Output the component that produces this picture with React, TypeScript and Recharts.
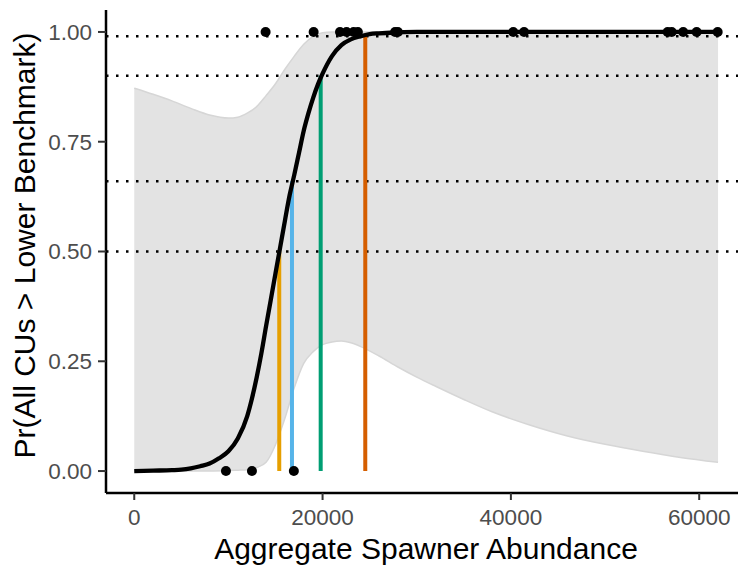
import {
  Area,
  ComposedChart,
  Label,
  Line,
  ReferenceLine,
  Scatter,
  XAxis,
  YAxis,
} from "recharts";

// fitted curve
const CURVE_X = [
  0, 2000, 4000, 5000, 6000, 7000, 8000, 9000, 10000, 11000, 12000, 12500,
  13000, 13500, 14000, 14500, 15000, 15500, 16000, 16500, 17000, 17500, 18000,
  18500, 19000, 19500, 20000, 21000, 22000, 23000, 24000, 25000, 26000, 28000,
  30000, 35000, 40000, 50000, 62000,
];
const CURVE_P = [
  0.0, 0.001, 0.002, 0.003, 0.006, 0.011, 0.017, 0.029, 0.045, 0.074, 0.125,
  0.165, 0.213, 0.268, 0.33, 0.39, 0.45, 0.51, 0.57, 0.628, 0.675, 0.725, 0.775,
  0.815, 0.85, 0.88, 0.905, 0.945, 0.97, 0.983, 0.99, 0.995, 0.997, 0.999, 1,
  1, 1, 1, 1,
];

// confidence band
const BAND_X = [
  0, 2000, 4000, 6000, 8000, 10000, 11000, 12000, 13000, 14000, 15000, 16000,
  17000, 18000, 19000, 20000, 21000, 22000, 23000, 24000, 26000, 28000, 30000,
  32000, 35000, 38000, 42000, 46000, 50000, 54000, 58000, 62000,
];
const BAND_LO = [
  0, 0, 0, 0, 0, 0.001, 0.002, 0.003, 0.008, 0.02, 0.06, 0.12, 0.19, 0.245,
  0.272, 0.288, 0.294, 0.296, 0.292, 0.284, 0.262, 0.237, 0.214, 0.193, 0.163,
  0.135, 0.105, 0.08, 0.061, 0.045, 0.031, 0.02,
];
const BAND_HI = [
  0.872, 0.858, 0.843, 0.826, 0.811, 0.804, 0.806, 0.815, 0.83, 0.855, 0.882,
  0.915, 0.945, 0.972, 0.99, 0.998, 1, 1, 1, 1, 1, 1, 1, 1, 1, 1, 1, 1, 1, 1,
  1, 1,
];

// observed outcomes
const OBS_ONE_X = [
  13950, 19050, 21850, 22550, 23300, 23750, 27700, 28000, 40250, 41400, 56650,
  57080, 58300, 59730, 61960,
];
const OBS_ZERO_X = [9740, 12500, 16950];

// benchmark probabilities and the abundance where the curve hits them
const PROB_LEVELS = [0.5, 0.66, 0.9, 0.99];
const LEVEL_X = [15400, 16750, 19800, 24535];
const LEVEL_COLORS = ["#E69F00", "#56B4E9", "#009E73", "#D55E00"];

const X_TICKS = [0, 20000, 40000, 60000];
const Y_TICKS = [0, 0.25, 0.5, 0.75, 1];

const FONT = "'Liberation Sans', Arial, sans-serif";

const curveData = CURVE_X.map((x, i) => ({ x, p: CURVE_P[i] }));
const bandData = BAND_X.map((x, i) => ({ x, band: [BAND_LO[i], BAND_HI[i]] }));
const obsData = [
  ...OBS_ZERO_X.map((x) => ({ x, y: 0 })),
  ...OBS_ONE_X.map((x) => ({ x, y: 1 })),
];

const Dot = (props: any) => (
  <circle cx={props.cx} cy={props.cy} r={5} fill="#000" />
);

export default function App() {
  return (
    <div style={{ position: "absolute", left: 0, top: 0, background: "#fff" }}>
      <ComposedChart
        width={738}
        height={565}
        margin={{ top: 10, right: 0, bottom: 0, left: 0 }}
        style={{ fontFamily: FONT }}
      >
        <XAxis
          type="number"
          dataKey="x"
          domain={[-3000, 64120]}
          allowDataOverflow
          ticks={X_TICKS}
          height={72}
          tickSize={7}
          tickMargin={9}
          tick={{ fontSize: 22.5, fill: "#4d4d4d" }}
          axisLine={{ stroke: "#000", strokeWidth: 2.5 }}
          tickLine={{ stroke: "#333", strokeWidth: 2 }}
        >
          <Label
            value="Aggregate Spawner Abundance"
            position="insideBottom"
            offset={6}
            dx={4}
            style={{ fontSize: 30, fill: "#000" }}
          />
        </XAxis>
        <YAxis
          type="number"
          domain={[-0.05, 1.05]}
          allowDataOverflow
          ticks={Y_TICKS}
          tickFormatter={(v: number) => v.toFixed(2)}
          width={106}
          tickSize={8}
          tickMargin={6}
          tick={{ fontSize: 22.5, fill: "#4d4d4d" }}
          axisLine={{ stroke: "#000", strokeWidth: 2.5 }}
          tickLine={{ stroke: "#333", strokeWidth: 2 }}
        >
          <Label
            content={({ viewBox }: any) => {
              const cy = viewBox.y + viewBox.height / 2 - 6;
              return (
                <text
                  x={35}
                  y={cy}
                  transform={`rotate(-90 35 ${cy})`}
                  textAnchor="middle"
                  fontSize={30}
                  fill="#000"
                  fontFamily={FONT}
                >
                  Pr(All CUs &gt; Lower Benchmark)
                </text>
              );
            }}
          />
        </YAxis>

        <Area
          data={bandData}
          dataKey="band"
          type="monotone"
          fill="#e3e3e3"
          fillOpacity={1}
          stroke="#d6d6d6"
          strokeWidth={1.5}
          isAnimationActive={false}
        />

        {PROB_LEVELS.map((p) => (
          <ReferenceLine
            key={p}
            y={p}
            stroke="#000"
            strokeWidth={2.5}
            strokeDasharray="2.5 7.5"
          />
        ))}

        {LEVEL_X.map((x, i) => (
          <ReferenceLine
            key={x}
            segment={[
              { x, y: 0 },
              { x, y: PROB_LEVELS[i] },
            ]}
            stroke={LEVEL_COLORS[i]}
            strokeWidth={4}
          />
        ))}

        <Line
          data={curveData}
          dataKey="p"
          type="monotone"
          stroke="#000"
          strokeWidth={4.3}
          dot={false}
          activeDot={false}
          isAnimationActive={false}
        />

        <Scatter
          data={obsData}
          dataKey="y"
          shape={Dot}
          isAnimationActive={false}
        />
      </ComposedChart>
    </div>
  );
}
